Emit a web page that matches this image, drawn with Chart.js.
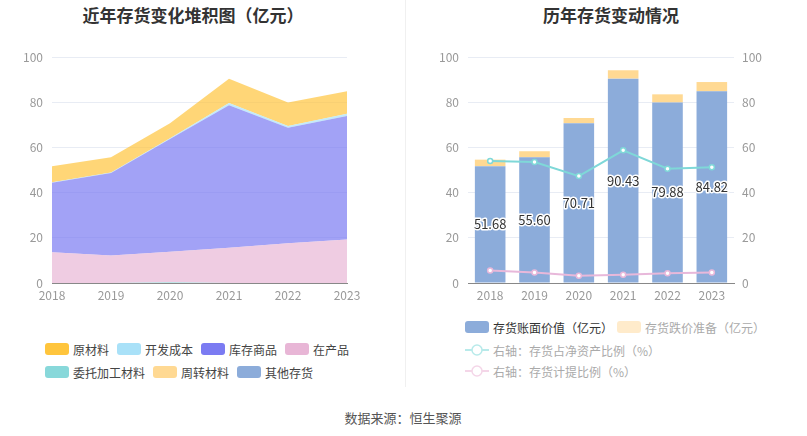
<!DOCTYPE html>
<html>
<head>
<meta charset="utf-8">
<script src="https://cdn.jsdelivr.net/npm/chart.js@4"></script>
<style>
  body { margin: 0; background: #fff; font-family: "Noto Sans CJK SC", "Noto Sans", sans-serif; }
  #page { position: relative; width: 807px; height: 436px; overflow: hidden; }
  canvas { position: absolute; top: 0; }
  .title { position: absolute; top: 2px; font-size: 17px; font-weight: bold; color: #333; transform: translateX(-50%); white-space: nowrap; }
  .divider { position: absolute; left: 405px; top: 0; width: 1px; height: 387px; background: #f0f0f0; }
  .legend-row { position: absolute; display: flex; align-items: center; font-size: 12px; color: #444; white-space: nowrap; }
  .item { display: flex; align-items: center; margin-right: 8px; height: 16px; }
  .box { width: 24px; height: 12px; border-radius: 3px; margin-right: 4px; }
  .lineicon { margin-right: 4px; }
  #source { position: absolute; top: 408px; left: 403px; transform: translateX(-50%); font-size: 13px; color: #555; white-space: nowrap; }
</style>
</head>
<body>
<div id="page">
  <div class="title" style="left:193px">近年存货变化堆积图（亿元）</div>
  <div class="title" style="left:611px">历年存货变动情况</div>
  <canvas id="stackChart" width="400" height="310" style="left:0"></canvas>
  <canvas id="barChart" width="402" height="310" style="left:405px"></canvas>
  <div class="divider"></div>

  <div class="legend-row" style="left:45px;top:341px" id="leftRow1"></div>
  <div class="legend-row" style="left:45px;top:364px" id="leftRow2"></div>

  <div class="legend-row" style="left:465px;top:319px" id="rightRow1"></div>
  <div class="legend-row" style="left:465px;top:342px" id="rightRow2"></div>
  <div class="legend-row" style="left:465px;top:363px" id="rightRow3"></div>

  <div id="source">数据来源：恒生聚源</div>
</div>
<script>
// ---- data ----
var years = ['2018', '2019', '2020', '2021', '2022', '2023'];

// left: inventory composition (亿元)
var rawMaterial = [7.1, 6.7, 6.7, 10.8, 10.4, 9.9];       // 原材料
var devCost = [0.2, 0.2, 0.3, 1.0, 0.8, 1.0];             // 开发成本
var goods = [30.8, 36.5, 49.9, 63.0, 51.1, 54.7];         // 库存商品
var wip = [13.6, 12.2, 13.5, 15.6, 17.6, 19.2];           // 在产品
var consigned = [0, 0, 0.3, 0, 0, 0];                     // 委托加工材料
var turnover = [0, 0, 0, 0, 0, 0];                        // 周转材料
var otherStock = [0, 0, 0, 0, 0, 0];                      // 其他存货

// right: book value, impairment, ratios
var bookValue = [51.68, 55.60, 70.71, 90.43, 79.88, 84.82];
var impairment = [2.9, 2.7, 2.3, 3.7, 3.6, 4.1];
var netAssetRatio = [54.0, 53.5, 47.3, 58.7, 50.6, 51.2];
var provisionRatio = [5.5, 4.6, 3.2, 3.7, 4.3, 4.7];

var yTicks = [0, 20, 40, 60, 80, 100];

var colors = {
  raw: '#FFC53D', dev: '#A9E1F8', goods: '#7B7BF2', wip: '#E8B6D6',
  consigned: '#88D8DA', turnover: '#FFD993', other: '#8CACDA'
};

function alpha(hex, a) {
  var r = parseInt(hex.slice(1, 3), 16), g = parseInt(hex.slice(3, 5), 16), b = parseInt(hex.slice(5, 7), 16);
  return 'rgba(' + r + ',' + g + ',' + b + ',' + a + ')';
}

var font = "'Noto Sans CJK SC', 'Noto Sans', sans-serif";
Chart.defaults.font.family = font;
Chart.defaults.font.size = 12;
Chart.defaults.color = '#999';
Chart.defaults.animation = false;

function areaSet(label, data, color, fill) {
  return {
    label: label, data: data, fill: fill,
    backgroundColor: alpha(color, 0.7), borderWidth: 0, pointRadius: 0, tension: 0
  };
}

// ---- left chart: stacked areas ----
new Chart(document.getElementById('stackChart').getContext('2d'), {
  type: 'line',
  data: {
    labels: years,
    datasets: [
      areaSet('委托加工材料', consigned, colors.consigned, 'origin'),
      areaSet('在产品', wip, colors.wip, '-1'),
      areaSet('库存商品', goods, colors.goods, '-1'),
      areaSet('开发成本', devCost, colors.dev, '-1'),
      areaSet('周转材料', turnover, colors.turnover, '-1'),
      areaSet('其他存货', otherStock, colors.other, '-1'),
      areaSet('原材料', rawMaterial, colors.raw, '-1')
    ]
  },
  options: {
    responsive: false,
    layout: { padding: { top: 57, right: 53, left: 0, bottom: 0 } },
    plugins: { legend: { display: false }, tooltip: { enabled: false } },
    scales: {
      x: {
        grid: { display: false, drawTicks: false },
        border: { color: '#888' },
        ticks: { padding: 5, color: '#999' },
        afterFit: function (s) { s.height = 27; }
      },
      y: {
        stacked: true, min: 0, max: 100,
        afterBuildTicks: function (s) { s.ticks = yTicks.map(function (v) { return { value: v }; }); },
        grid: { color: '#E8ECF4', drawTicks: false },
        border: { display: false },
        ticks: { padding: 9, color: '#999' },
        afterFit: function (s) { s.width = 52; }
      }
    }
  }
});

// ---- right chart: stacked bars + ratio lines ----
var barLabels = {
  id: 'barLabels',
  afterDatasetsDraw: function (chart) {
    var meta = chart.getDatasetMeta(0);
    var ctx = chart.ctx;
    ctx.save();
    ctx.font = '13px ' + font;
    ctx.textAlign = 'center';
    ctx.textBaseline = 'middle';
    ctx.lineJoin = 'round';
    meta.data.forEach(function (bar, i) {
      var y = (bar.y + bar.base) / 2;
      var txt = bookValue[i].toFixed(2);
      ctx.lineWidth = 3;
      ctx.strokeStyle = '#fff';
      ctx.strokeText(txt, bar.x, y);
      ctx.fillStyle = '#333';
      ctx.fillText(txt, bar.x, y);
    });
    ctx.restore();
  }
};

new Chart(document.getElementById('barChart').getContext('2d'), {
  type: 'bar',
  data: {
    labels: years,
    datasets: [
      { label: '存货账面价值（亿元）', data: bookValue, backgroundColor: '#8CACDA', stack: 's', order: 2,
        barPercentage: 0.69, categoryPercentage: 1, yAxisID: 'y' },
      { label: '存货跌价准备（亿元）', data: impairment, backgroundColor: '#FFD993', stack: 's', order: 2,
        barPercentage: 0.69, categoryPercentage: 1, yAxisID: 'y' },
      { type: 'line', label: '右轴：存货占净资产比例（%）', data: netAssetRatio, yAxisID: 'y1', order: 0,
        borderColor: '#7FD8D8', borderWidth: 2, pointRadius: 2.5, pointBorderWidth: 1.5,
        pointBackgroundColor: '#fff', pointBorderColor: '#7FD8D8', tension: 0, fill: false },
      { type: 'line', label: '右轴：存货计提比例（%）', data: provisionRatio, yAxisID: 'y1', order: 0,
        borderColor: '#E8B8DA', borderWidth: 2, pointRadius: 2.5, pointBorderWidth: 1.5,
        pointBackgroundColor: '#fff', pointBorderColor: '#E8B8DA', tension: 0, fill: false }
    ]
  },
  options: {
    responsive: false,
    layout: { padding: { top: 57, right: 0, left: 0, bottom: 0 } },
    plugins: { legend: { display: false }, tooltip: { enabled: false } },
    scales: {
      x: {
        stacked: true,
        grid: { display: false, drawTicks: false },
        border: { color: '#888' },
        ticks: { padding: 5, color: '#999' },
        afterFit: function (s) { s.height = 27; }
      },
      y: {
        stacked: true, min: 0, max: 100, position: 'left',
        afterBuildTicks: function (s) { s.ticks = yTicks.map(function (v) { return { value: v }; }); },
        grid: { color: '#E8ECF4', drawTicks: false },
        border: { display: false },
        ticks: { padding: 9, color: '#999' },
        afterFit: function (s) { s.width = 63; }
      },
      y1: {
        min: 0, max: 100, position: 'right',
        afterBuildTicks: function (s) { s.ticks = yTicks.map(function (v) { return { value: v }; }); },
        grid: { display: false, drawTicks: false },
        border: { display: false },
        ticks: { padding: 8, color: '#999' },
        afterFit: function (s) { s.width = 73; }
      }
    }
  },
  plugins: [barLabels]
});

// ---- html legends ----
function boxItem(label, color, textColor) {
  var item = document.createElement('div');
  item.className = 'item';
  var box = document.createElement('div');
  box.className = 'box';
  box.style.background = color;
  var span = document.createElement('span');
  span.textContent = label;
  if (textColor) span.style.color = textColor;
  item.appendChild(box);
  item.appendChild(span);
  return item;
}

function lineItem(label, color, textColor) {
  var item = document.createElement('div');
  item.className = 'item';
  item.innerHTML = '<svg class="lineicon" width="24" height="14"><line x1="0" y1="7" x2="24" y2="7" stroke="' + color +
    '" stroke-width="2"/><circle cx="12" cy="7" r="5" fill="#fff" stroke="' + color + '" stroke-width="1.5"/></svg>';
  var span = document.createElement('span');
  span.textContent = label;
  span.style.color = textColor;
  item.appendChild(span);
  return item;
}

var leftRow1 = document.getElementById('leftRow1');
leftRow1.appendChild(boxItem('原材料', colors.raw));
leftRow1.appendChild(boxItem('开发成本', colors.dev));
leftRow1.appendChild(boxItem('库存商品', colors.goods));
leftRow1.appendChild(boxItem('在产品', colors.wip));

var leftRow2 = document.getElementById('leftRow2');
leftRow2.appendChild(boxItem('委托加工材料', colors.consigned));
leftRow2.appendChild(boxItem('周转材料', colors.turnover));
leftRow2.appendChild(boxItem('其他存货', colors.other));

var rightRow1 = document.getElementById('rightRow1');
rightRow1.appendChild(boxItem('存货账面价值（亿元）', '#8CACDA', '#333'));
var second = boxItem('存货跌价准备（亿元）', '#FFEBCB', '#aaa');
second.style.marginLeft = '-4px';
rightRow1.appendChild(second);

document.getElementById('rightRow2').appendChild(lineItem('右轴：存货占净资产比例（%）', '#B8EAEA', '#aaa'));
document.getElementById('rightRow3').appendChild(lineItem('右轴：存货计提比例（%）', '#F4D6E8', '#aaa'));
</script>
</body>
</html>
